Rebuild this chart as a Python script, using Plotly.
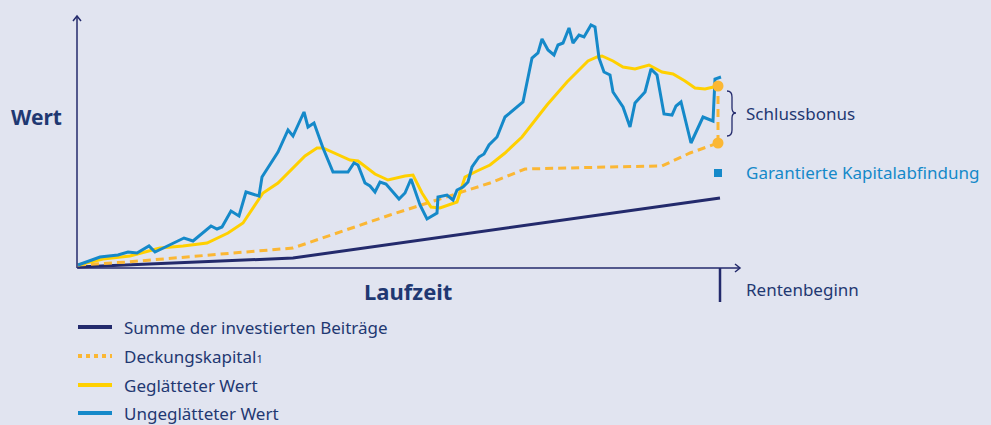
import plotly.graph_objects as go

# ---- data (time in arbitrary units, value in arbitrary units) ----
blue_t = [0, 22, 40, 50, 59, 71, 77, 89, 106, 115, 133, 139, 144, 153, 161, 168, 181, 184, 200, 210,
          215, 226, 230, 236, 245, 255, 270, 276, 280, 287, 292, 297, 302, 308, 321, 327, 333, 342,
          349, 359, 360, 369, 375, 379, 385, 390, 394, 401, 406, 411, 419, 427, 432, 445, 454, 460,
          464, 470, 476, 480, 485, 491, 495, 501, 506, 513, 517, 521, 526, 532, 535, 545, 552, 557,
          567, 573, 579, 586, 594, 598, 603, 613, 625, 635, 637, 643]
blue_v = [2, 10, 12, 15, 14, 21, 15, 21, 29, 26, 41, 38, 40, 56, 51, 75, 71, 90, 115, 137,
          131, 155, 140, 144, 119, 95, 95, 104, 102, 84, 81, 75, 85, 83, 68, 74, 88, 62,
          48, 54, 70, 72, 67, 77, 80, 85, 100, 110, 113, 122, 130, 150, 154, 165, 209, 214,
          228, 217, 212, 222, 224, 239, 224, 232, 230, 242, 240, 209, 195, 192, 175, 160, 140, 164,
          175, 198, 192, 153, 152, 161, 165, 124, 150, 146, 188, 190]

smooth_t = [0, 25, 52, 82, 105, 129, 150, 165, 185, 200, 227, 239, 245, 272, 280, 297, 310, 327, 335,
            344, 353, 362, 379, 387, 399, 412, 427, 444, 469, 489, 497, 510, 519, 524, 535, 545, 557,
            571, 584, 595, 607, 617, 627, 640]
smooth_v = [2, 8, 11, 19, 21, 24, 34, 44, 74, 84, 111, 119, 119, 107, 106, 93, 87, 91, 92,
            74, 60, 59, 65, 90, 96, 102, 114, 130, 162, 185, 193, 206, 210, 211, 206, 200, 198,
            202, 195, 193, 186, 179, 178, 181]

deckung_t = [0, 49, 215, 312, 412, 447, 532, 584, 612, 640]
deckung_v = [2, 5, 19, 52, 84, 98, 100, 101, 114, 124]

beitraege_t = [0, 215, 642]
beitraege_v = [0, 9, 69]

end_t = 640
garantie_v = 94

legend_labels = ["Summe der investierten Beiträge",
                 "Deckungskapital<span style=\"font-size:11px\">1</span>",
                 "Geglätteter Wert", "Ungeglätteter Wert"]

# ---- styles ----
NAVY = "#232a6c"
TXT = "#1f3872"
BLUE = "#1589c9"
YEL = "#ffd000"
ORA = "#fbb734"
BG = "#e1e4f0"
FONT = "Noto Sans"
FS = 17

fig = go.Figure()
fig.add_trace(go.Scatter(x=beitraege_t, y=beitraege_v, mode="lines",
                         line=dict(color=NAVY, width=3), hoverinfo="skip"))
fig.add_trace(go.Scatter(x=deckung_t, y=deckung_v, mode="lines",
                         line=dict(color=ORA, width=3, dash="8px,5px"), hoverinfo="skip"))
fig.add_trace(go.Scatter(x=[end_t, end_t], y=[deckung_v[-1], smooth_v[-1]], mode="lines",
                         line=dict(color=ORA, width=3, dash="8px,5px"), hoverinfo="skip"))
fig.add_trace(go.Scatter(x=smooth_t, y=smooth_v, mode="lines",
                         line=dict(color=YEL, width=3), hoverinfo="skip"))
fig.add_trace(go.Scatter(x=blue_t, y=blue_v, mode="lines",
                         line=dict(color=BLUE, width=3), hoverinfo="skip"))
fig.add_trace(go.Scatter(x=[end_t, end_t], y=[deckung_v[-1], smooth_v[-1]], mode="markers",
                         marker=dict(color=ORA, size=11), hoverinfo="skip"))
fig.add_trace(go.Scatter(x=[end_t], y=[garantie_v], mode="markers",
                         marker=dict(color=BLUE, size=8, symbol="square"), hoverinfo="skip"))

W, H = 991, 425
X0, Y0 = 78, 267  # pixel position of data origin


def px(x):
    return x / W


def py(y):
    return 1 - y / H


shapes = []
line_ax = dict(color=NAVY, width=1.5)
# y axis
shapes.append(dict(type="line", xref="paper", yref="paper", x0=px(77), x1=px(77), y0=py(268), y1=py(16), line=line_ax))
shapes.append(dict(type="path", xref="paper", yref="paper",
                   path=f"M {px(73)},{py(21)} L {px(77)},{py(16)} L {px(81)},{py(21)}", line=line_ax))
# x axis
shapes.append(dict(type="line", xref="paper", yref="paper", x0=px(77), x1=px(740), y0=py(268), y1=py(268), line=line_ax))
shapes.append(dict(type="path", xref="paper", yref="paper",
                   path=f"M {px(735)},{py(264)} L {px(740)},{py(268)} L {px(735)},{py(272)}", line=line_ax))
# Rentenbeginn tick
shapes.append(dict(type="line", xref="paper", yref="paper", x0=px(720), x1=px(720), y0=py(268), y1=py(302),
                   line=dict(color=NAVY, width=2.5)))
# brace
bp = (f"M {px(727)},{py(91)} Q {px(732)},{py(91)} {px(732)},{py(97)} L {px(732)},{py(108)} "
      f"Q {px(732)},{py(113)} {px(736)},{py(113)} Q {px(732)},{py(113)} {px(732)},{py(118)} "
      f"L {px(732)},{py(130)} Q {px(732)},{py(136)} {px(727)},{py(136)}")
shapes.append(dict(type="path", xref="paper", yref="paper", path=bp, line=dict(color=NAVY, width=1.3)))

# legend lines
leg_y = [327, 356, 385, 413]
leg_styles = [dict(color=NAVY, width=4), dict(color=ORA, width=4, dash="4px,4px"),
              dict(color=YEL, width=4), dict(color=BLUE, width=4)]
for yy, st in zip(leg_y, leg_styles):
    shapes.append(dict(type="line", xref="paper", yref="paper", x0=px(78), x1=px(112), y0=py(yy), y1=py(yy), line=st))

ann = []
for yy, lab in zip(leg_y, legend_labels):
    ann.append(dict(x=px(122), y=py(yy), xref="paper", yref="paper", text=lab, showarrow=False,
                    xanchor="left", yanchor="middle", font=dict(family=FONT, size=FS, color=TXT)))
ann.append(dict(x=px(9), y=py(117), xref="paper", yref="paper", text="<b>Wert</b>", showarrow=False,
                xanchor="left", yanchor="middle", font=dict(family=FONT, size=21, color=TXT)))
ann.append(dict(x=px(408), y=py(291), xref="paper", yref="paper", text="<b>Laufzeit</b>", showarrow=False,
                xanchor="center", yanchor="middle", font=dict(family=FONT, size=22, color=TXT)))
ann.append(dict(x=px(744), y=py(289), xref="paper", yref="paper", text="Rentenbeginn", showarrow=False,
                xanchor="left", yanchor="middle", font=dict(family=FONT, size=FS, color=TXT)))
ann.append(dict(x=px(744), y=py(113), xref="paper", yref="paper", text="Schlussbonus", showarrow=False,
                xanchor="left", yanchor="middle", font=dict(family=FONT, size=FS, color=TXT)))
ann.append(dict(x=px(744), y=py(173), xref="paper", yref="paper", text="Garantierte Kapitalabfindung", showarrow=False,
                xanchor="left", yanchor="middle", font=dict(family=FONT, size=FS, color=BLUE)))

fig.update_layout(
    width=W, height=H, margin=dict(l=0, r=0, t=0, b=0),
    paper_bgcolor=BG, plot_bgcolor=BG, showlegend=False,
    xaxis=dict(range=[-X0, W - X0], visible=False, fixedrange=True),
    yaxis=dict(range=[Y0 - H, Y0], visible=False, fixedrange=True),
    shapes=shapes, annotations=ann,
)
fig.write_html("out.html", config={"displayModeBar": False})
